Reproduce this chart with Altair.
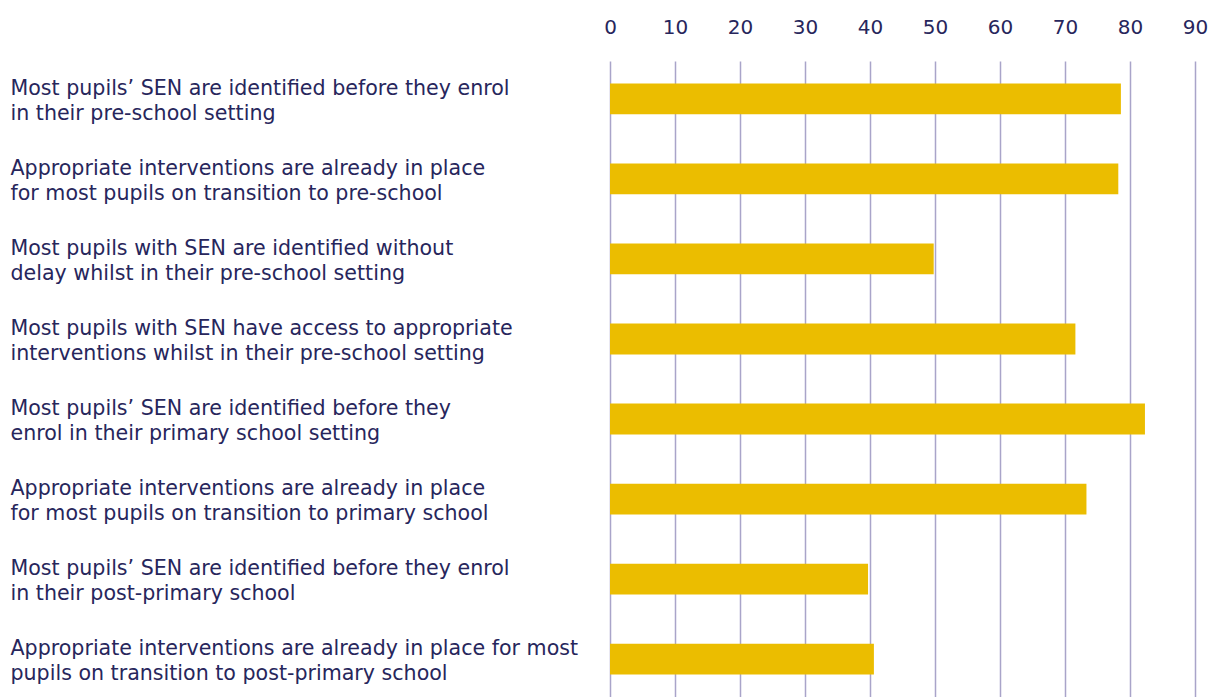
import altair as alt
import pandas as pd

statements = [
    "Most pupils’ SEN are identified before they enrol|in their pre-school setting",
    "Appropriate interventions are already in place|for most pupils on transition to pre-school",
    "Most pupils with SEN are identified without|delay whilst in their pre-school setting",
    "Most pupils with SEN have access to appropriate|interventions whilst in their pre-school setting",
    "Most pupils’ SEN are identified before they|enrol in their primary school setting",
    "Appropriate interventions are already in place|for most pupils on transition to primary school",
    "Most pupils’ SEN are identified before they enrol|in their post-primary school",
    "Appropriate interventions are already in place for most|pupils on transition to post-primary school",
]
values = [78.6, 78.2, 49.8, 71.6, 82.3, 73.3, 39.7, 40.6]
x_ticks = [0, 10, 20, 30, 40, 50, 60, 70, 80, 90]

df = pd.DataFrame({"statement": statements, "value": values})

TEXT = "#27265C"
GRID = "#A9A4C9"
BAR = "#EBBD00"
FONT = "DejaVu Sans"

chart = (
    alt.Chart(df)
    .mark_bar(color=BAR)
    .encode(
        x=alt.X(
            "value:Q",
            scale=alt.Scale(domain=[0, 90], nice=False),
            axis=alt.Axis(
                orient="top",
                values=x_ticks,
                title=None,
                domain=False,
                ticks=False,
                grid=True,
                gridColor=GRID,
                gridWidth=1.5,
                labelFontSize=20,
                labelFont=FONT,
                labelColor=TEXT,
                labelPadding=24,
                labelFlush=False,
            ),
        ),
        y=alt.Y(
            "statement:N",
            sort=None,
            scale=alt.Scale(paddingInner=0.615, paddingOuter=0.28),
            axis=alt.Axis(
                title=None,
                domain=False,
                ticks=False,
                grid=False,
                labelAlign="left",
                labelBaseline="middle",
                labelPadding=600,
                labelLimit=0,
                labelOffset=-10,
                labelFontSize=20.6,
                labelFont=FONT,
                labelColor=TEXT,
                labelLineHeight=25,
                labelExpr="split(datum.label, '|')",
            ),
        ),
    )
    .properties(width=585, height=636, padding={"left": 10, "top": 17, "right": 0, "bottom": 0})
    .configure_view(stroke=None)
)

chart.save("out.html", embed_options={"renderer": "svg", "actions": False})
